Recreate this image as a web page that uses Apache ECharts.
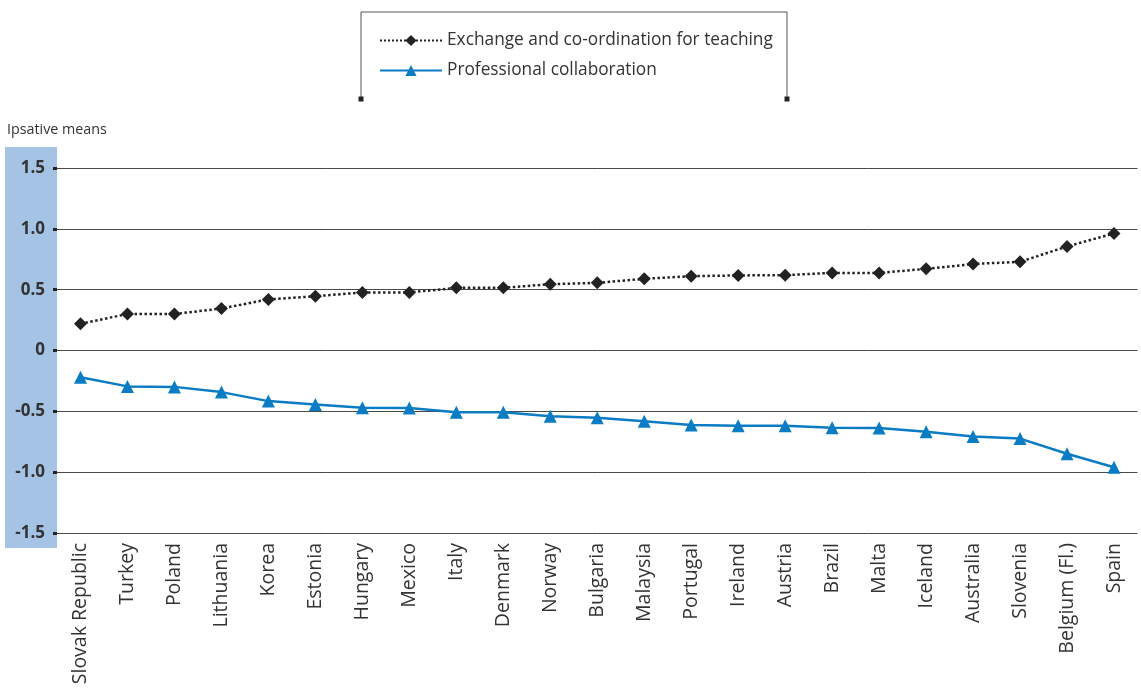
<!DOCTYPE html>
<html>
<head>
<meta charset="utf-8">
<script src="https://cdn.jsdelivr.net/npm/echarts@6/dist/echarts.min.js"></script>
<style>
html,body{margin:0;padding:0;background:#fff;}
#chart{width:1141px;height:695px;}
</style>
</head>
<body>
<div id="chart"></div>
<script>
const categories = ["Slovak Republic","Turkey","Poland","Lithuania","Korea","Estonia","Hungary","Mexico","Italy","Denmark","Norway","Bulgaria","Malaysia","Portugal","Ireland","Austria","Brazil","Malta","Iceland","Australia","Slovenia","Belgium (Fl.)","Spain"];
const exchangeValues = [0.22,0.30,0.30,0.345,0.42,0.446,0.477,0.477,0.515,0.515,0.545,0.556,0.589,0.611,0.617,0.619,0.638,0.638,0.671,0.711,0.729,0.855,0.962];
const collaborationValues = [-0.22,-0.295,-0.299,-0.342,-0.416,-0.444,-0.471,-0.472,-0.508,-0.508,-0.541,-0.553,-0.581,-0.613,-0.619,-0.619,-0.635,-0.636,-0.668,-0.707,-0.724,-0.849,-0.959];
const seriesNames = ["Exchange and co-ordination for teaching","Professional collaboration"];
const yTicks = {min:-1.5, max:1.5, interval:0.5};

const chart = echarts.init(document.getElementById('chart'));
const font = '"Open Sans", "DejaVu Sans", sans-serif';
chart.setOption({
  animation:false,
  backgroundColor:'#fff',
  grid:{left:57, right:3.5, top:168, bottom:162, containLabel:false},
  legend:{
    orient:'vertical', left:374, top:27, itemWidth:62, itemHeight:14, itemGap:13,
    textStyle:{fontFamily:font, fontSize:17.3, color:'#333'},
    data:seriesNames
  },
  graphic:[
    {type:'rect', z:-10, shape:{x:5,y:147,width:52,height:401}, style:{fill:'#a5c3e4'}},
    {type:'text', left:7, top:123, style:{text:'Ipsative means', fontFamily:font, fontSize:14.3, fill:'#333'}},
    {type:'polyline', shape:{points:[[361,99],[361,12],[787,12],[787,99]]}, style:{stroke:'#555', lineWidth:1, fill:null}},
    {type:'rect', shape:{x:358.5,y:96.5,width:5,height:5}, style:{fill:'#222'}},
    {type:'rect', shape:{x:784.5,y:96.5,width:5,height:5}, style:{fill:'#222'}}
  ],
  xAxis:{
    type:'category', data:categories, boundaryGap:true,
    axisLine:{show:false}, axisTick:{show:false},
    axisLabel:{rotate:90, margin:10, interval:0, fontFamily:font, fontSize:19.5, color:'#333'}
  },
  yAxis:{
    type:'value', min:yTicks.min, max:yTicks.max, interval:yTicks.interval,
    axisLine:{show:false},
    axisTick:{show:true, length:4, lineStyle:{color:'#222', width:3}},
    splitLine:{show:true, lineStyle:{color:'#4a4a4a', width:1}},
    axisLabel:{margin:12, fontFamily:font, fontSize:17, fontWeight:'bold', color:'#333',
      formatter:v => v === 0 ? '0' : v.toFixed(1)}
  },
  series:[
    {name:seriesNames[0], type:'line', data:exchangeValues, symbol:'diamond', symbolSize:13,
     lineStyle:{color:'#222', width:2.5, type:'dotted'}, itemStyle:{color:'#222'}},
    {name:seriesNames[1], type:'line', data:collaborationValues, symbol:'triangle', symbolSize:13,
     lineStyle:{color:'#0a7cc4', width:2.5}, itemStyle:{color:'#0a7cc4'}}
  ]
});
</script>
</body>
</html>
